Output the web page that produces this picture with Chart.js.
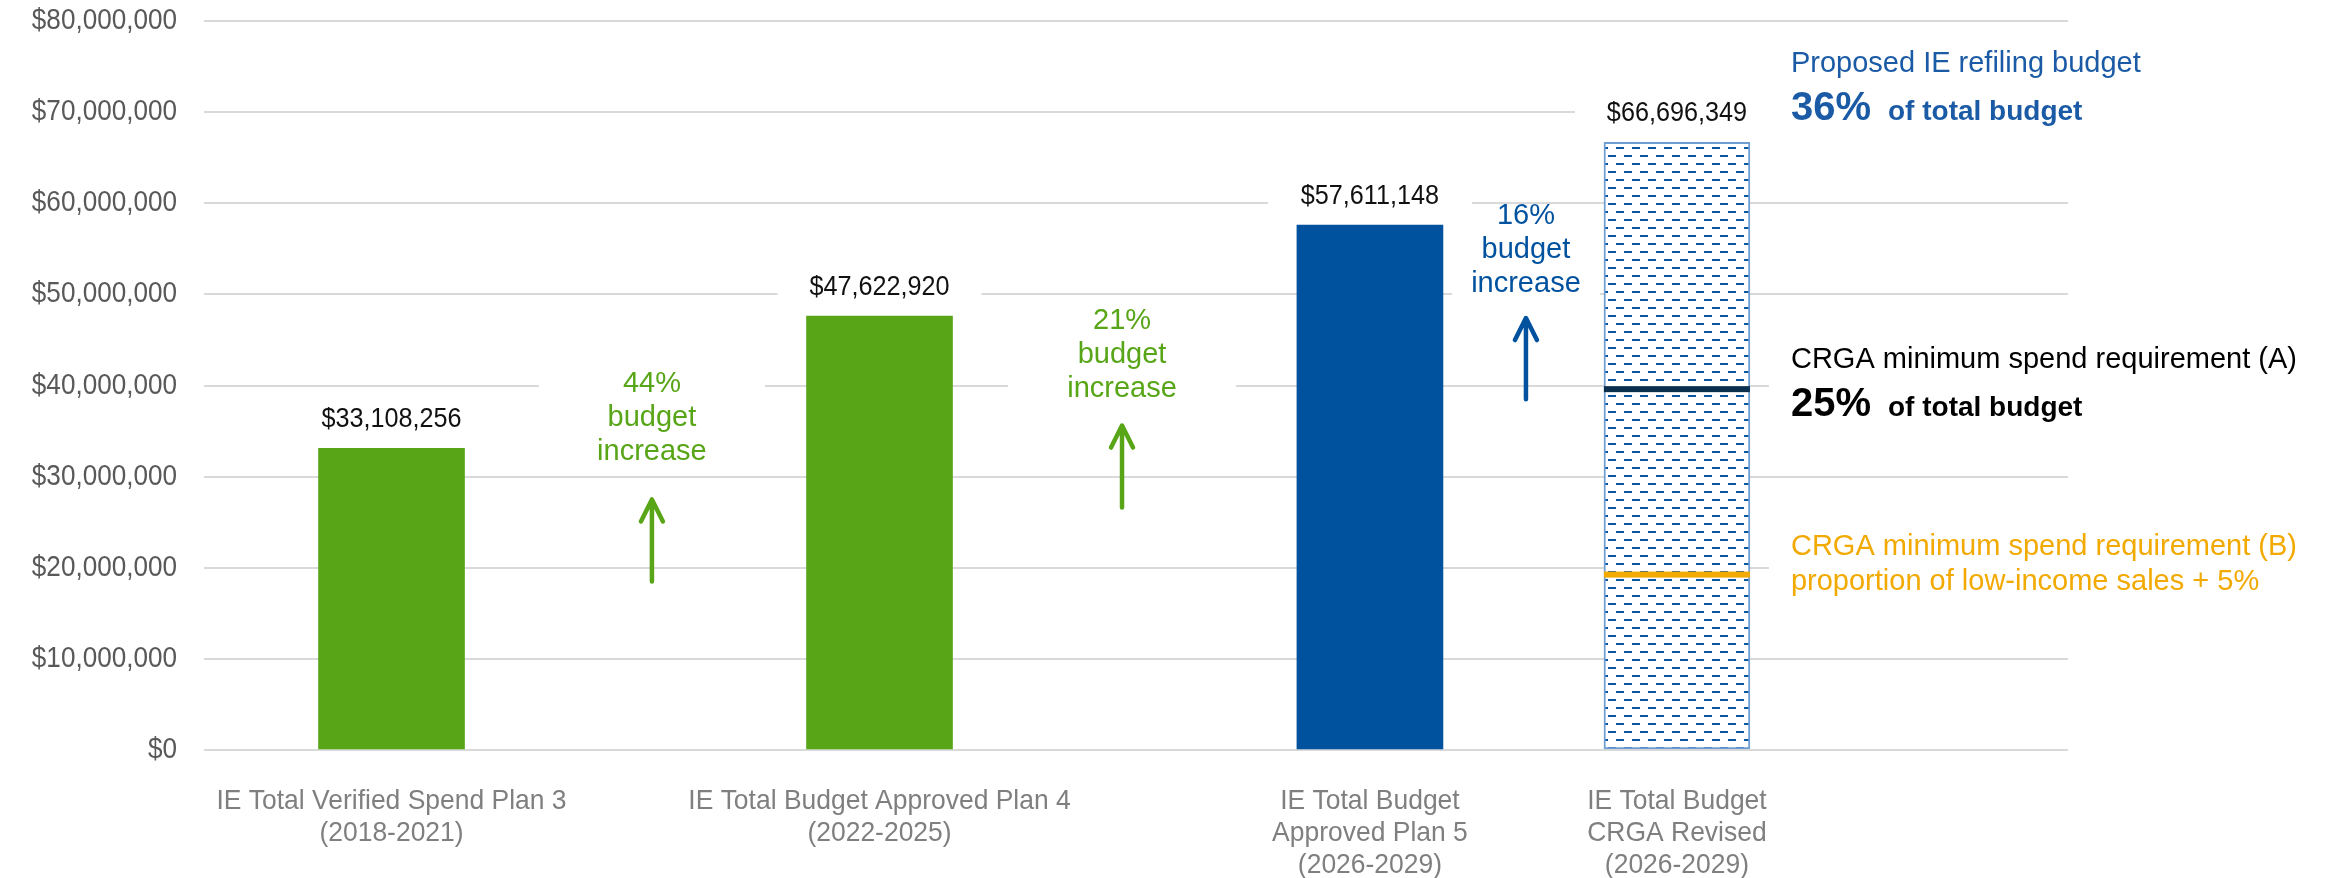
<!DOCTYPE html>
<html>
<head>
<meta charset="utf-8">
<script src="https://cdn.jsdelivr.net/npm/chart.js@4.4.1/dist/chart.umd.min.js"></script>
<style>
  html, body { margin: 0; padding: 0; background: #fff; }
  canvas { display: block; }
</style>
</head>
<body>
<canvas id="chart" width="2334" height="878"></canvas>
<script>
// ---- values ----
const categories = [
    ['IE Total Verified Spend Plan 3', '(2018-2021)'],
    ['IE Total Budget Approved Plan 4', '(2022-2025)'],
    ['IE Total Budget', 'Approved Plan 5', '(2026-2029)'],
    ['IE Total Budget', 'CRGA Revised', '(2026-2029)']
];
const budgets = [33108256, 47622920, 57611148, 66696349];
const yTicks = [0, 10000000, 20000000, 30000000, 40000000, 50000000, 60000000, 70000000, 80000000];

const increaseLabels = ['44%', '21%', '16%'];
const arrowFrom = [18500000, 26600000, 38500000];
const arrowTo = [27500000, 35600000, 47400000];

const crgaA = 39600000;   // minimum spend requirement (A)
const crgaB = 19250000;   // minimum spend requirement (B)

// ---- layout: slot of each bar / arrow on a 0-100 horizontal axis ----
const barSlots = [10.06, 36.24, 62.55, 79.02];
const arrowSlots = [24.03, 49.25, 70.92];

const GREEN = '#58a618';
const BLUE = '#00529f';
const TEXT_BLUE = '#1b5ba6';
const NAVY = '#0b2f4f';
const GOLD = '#f2a900';
const FONT = '"Liberation Sans", Arial, sans-serif';

const money = v => '$' + v.toLocaleString('en-US');

const canvas = document.getElementById('chart');
const ctx = canvas.getContext('2d');

// dashed hatch used by the revised budget bar
function hatch() {
    const t = document.createElement('canvas');
    t.width = 16; t.height = 16;
    const g = t.getContext('2d');
    g.fillStyle = '#fff';
    g.fillRect(0, 0, 16, 16);
    g.fillStyle = '#0a56a3';
    g.fillRect(0, 3, 8, 2);
    g.fillRect(8, 11, 8, 2);
    return ctx.createPattern(t, 'repeat');
}

// text with a slight horizontal squeeze, like the original export
function say(c, s, x, y, size, color, opts = {}) {
    c.save();
    c.font = (opts.bold ? 'bold ' : '') + size + 'px ' + FONT;
    c.fillStyle = color;
    c.textAlign = opts.align || 'center';
    c.textBaseline = opts.baseline || 'alphabetic';
    c.translate(x, y);
    c.scale(opts.sx || 1, 1);
    c.fillText(s, 0, 0);
    c.restore();
}

function arrow(c, x, y0, y1, color) {
    c.save();
    c.strokeStyle = color;
    c.lineWidth = 4.5;
    c.lineCap = 'round';
    c.lineJoin = 'round';
    c.beginPath();
    c.moveTo(x, y0);
    c.lineTo(x, y1 + 2);
    c.moveTo(x - 11, y1 + 22);
    c.lineTo(x, y1);
    c.lineTo(x + 11, y1 + 22);
    c.stroke();
    c.restore();
}

const increaseColors = [GREEN, GREEN, BLUE];
const textGap = [39, 29, 26];
const boxUp = [30, 30, 18];
const boxHalf = [113, 114, 74];
const LINE = 34;

const notes = {
    id: 'notes',
    // white text boxes that hide the gridlines behind the labels
    beforeDatasetsDraw(chart) {
        const { ctx: c, chartArea: a, scales: { x, y } } = chart;
        const bars = chart.getDatasetMeta(0).data;
        c.save();
        c.fillStyle = '#fff';
        bars.forEach(b => c.fillRect(b.x - 102, b.y - 49, 204, 36));
        arrowSlots.forEach((s, i) => {
            const ax = x.getPixelForValue(s);
            const last = y.getPixelForValue(arrowTo[i]) - textGap[i];
            const first = last - 2 * LINE;
            c.fillRect(ax - boxHalf[i], first - boxUp[i], boxHalf[i] * 2, last + 12 - first + boxUp[i]);
        });
        const b4 = bars[3];
        const left = b4.x + b4.width / 2 + 19;
        const yA = y.getPixelForValue(crgaA), yB = y.getPixelForValue(crgaB);
        c.fillRect(left, b4.y - 102, a.right + 4 - left, 90);
        c.fillRect(left, yA - 49, a.right + 4 - left, 85);
        c.fillRect(left, yB - 50, a.right + 4 - left, 75);
        c.restore();
    },
    afterDatasetsDraw(chart) {
        const { ctx: c, chartArea: a, scales: { x, y } } = chart;
        const bars = chart.getDatasetMeta(0).data;
        const b4 = bars[3];
        const yA = y.getPixelForValue(crgaA), yB = y.getPixelForValue(crgaB);

        // y tick labels, placed by the value scale
        y.ticks.forEach(t => {
            say(c, money(t.value), a.left - 27, y.getPixelForValue(t.value), 29, '#595959',
                { align: 'right', baseline: 'middle', sx: 0.9 });
        });

        // requirement lines across the revised bar
        c.save();
        c.fillStyle = NAVY;
        c.fillRect(b4.x - b4.width / 2, yA - 3, b4.width, 6);
        c.fillStyle = GOLD;
        c.fillRect(b4.x - b4.width / 2, yB - 3, b4.width, 6);
        c.restore();

        // value labels and category labels
        bars.forEach((b, i) => {
            say(c, money(budgets[i]), b.x, b.y - 21, 28, '#111', { sx: 0.9 });
            categories[i].forEach((line, k) => {
                say(c, line, b.x, 809 + k * 32, 28, '#7f7f7f', { sx: 0.945 });
            });
        });

        // budget increase arrows
        arrowSlots.forEach((s, i) => {
            const ax = x.getPixelForValue(s);
            const top = y.getPixelForValue(arrowTo[i]);
            arrow(c, ax, y.getPixelForValue(arrowFrom[i]), top, increaseColors[i]);
            const last = top - textGap[i];
            [increaseLabels[i], 'budget', 'increase'].forEach((t, k) => {
                say(c, t, ax, last - (2 - k) * LINE, 29, increaseColors[i]);
            });
        });

        // notes right of the revised bar
        const tx = b4.x + b4.width / 2 + 41;
        const pair = (big, rest, yy, color) => {
            say(c, big, tx, yy, 40, color, { bold: true, align: 'left' });
            c.save();
            c.font = 'bold 40px ' + FONT;
            const w = c.measureText(big).width;
            c.restore();
            say(c, rest, tx + w + 17, yy, 28, color, { bold: true, align: 'left' });
        };
        say(c, 'Proposed IE refiling budget', tx, b4.y - 70, 29, TEXT_BLUE, { align: 'left' });
        pair('36%', 'of total budget', b4.y - 22, TEXT_BLUE);
        say(c, 'CRGA minimum spend requirement (A)', tx, yA - 21, 29, '#000', { align: 'left' });
        pair('25%', 'of total budget', yA + 27, '#000');
        say(c, 'CRGA minimum spend requirement (B)', tx, yB - 20, 29, GOLD, { align: 'left' });
        say(c, 'proportion of low-income sales + 5%', tx, yB + 15, 29, GOLD, { align: 'left' });
    }
};

new Chart(ctx, {
    type: 'bar',
    data: {
        datasets: [{
            data: budgets.map((v, i) => ({ x: barSlots[i], y: v })),
            backgroundColor: [GREEN, GREEN, BLUE, hatch()],
            borderColor: ['rgba(0,0,0,0)', 'rgba(0,0,0,0)', 'rgba(0,0,0,0)', '#6f9ed3'],
            borderWidth: [0, 0, 0, 2],
            borderSkipped: false,
            barThickness: 146
        }]
    },
    options: {
        responsive: false,
        animation: false,
        layout: { padding: { top: 21, right: 266, bottom: 128, left: 0 } },
        plugins: {
            legend: { display: false },
            tooltip: { enabled: false }
        },
        scales: {
            x: {
                type: 'linear',
                min: 0,
                max: 100,
                offset: false,
                display: false
            },
            y: {
                min: 0,
                max: 80000000,
                afterBuildTicks: s => { s.ticks = yTicks.map(v => ({ value: v })); },
                afterFit: s => { s.width = 204; s.paddingTop = 0; s.paddingBottom = 0; },
                border: { display: false },
                grid: { color: '#d9d9d9', lineWidth: 2, drawTicks: false },
                ticks: { display: false }
            }
        }
    },
    plugins: [notes]
});
</script>
</body>
</html>
